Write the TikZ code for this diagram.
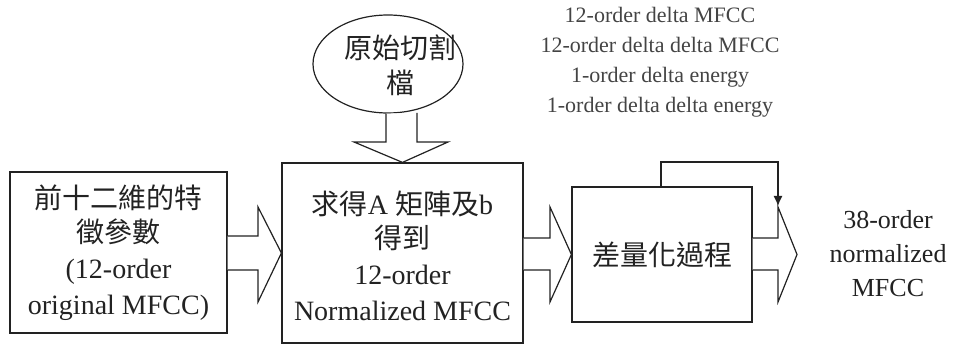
\documentclass[tikz,border=0pt]{standalone}
\usepackage{fontspec}
\setmainfont{Liberation Serif}
\newfontfamily\cjk{Noto Sans CJK TC}
\usetikzlibrary{shapes.geometric,arrows.meta}
\definecolor{ink}{HTML}{222222}
\definecolor{soft}{HTML}{444444}
\begin{document}
\begin{tikzpicture}[x=1pt,y=-1pt,
  line width=1.2pt,
  box/.style={draw=ink,rectangle,inner sep=0pt,align=center,text=ink,
    font=\fontsize{28}{36}\selectfont},
  blockarrow/.style={draw=ink,fill=white,line join=miter},
  plain/.style={align=center,text=ink,inner sep=0pt}]
\useasboundingbox (0,0) rectangle (953,344);
% boxes
\node[box,minimum width=217pt,minimum height=161pt] (feat) at (118.5,252.5)
  {{\cjk 前十二維的特}\\[-2pt]{\cjk 徵參數}\\(12-order\\original MFCC)};
\node[box,minimum width=241pt,minimum height=180pt] (norm) at (402.5,253) {};
\node[plain,font=\fontsize{28}{36}\selectfont] (normtext) at (402.5,256)
  {{\cjk 求得}A {\cjk 矩陣及}b\\[-2pt]{\cjk 得到}\\12-order\\Normalized MFCC};
\node[box,minimum width=180pt,minimum height=135pt] (diff) at (662,254.5)
  {{\cjk 差量化過程}};
% ellipse source
\node[draw=ink,ellipse,minimum width=150pt,minimum height=98pt,inner sep=0pt] (src) at (388,64) {};
\node[plain,font=\fontsize{28}{35}\selectfont] (srctext) at (400,65)
  {{\cjk 原始切割}\\{\cjk 檔}};
% block arrows
\draw[blockarrow] (src.south -| 386,0) -- (386,142) -- (354,142) -- (norm.north)
  -- (448,142) -- (417,142) -- (417,113);
\draw[blockarrow] (feat.east |- 0,236) -- (258,236) -- (258,207) -- (norm.west)
  -- (258,302) -- (258,270) -- (feat.east |- 0,270);
\draw[blockarrow] (norm.east |- 0,238) -- (550,238) -- (550,207) -- (diff.west)
  -- (550,302) -- (550,270) -- (norm.east |- 0,270);
\coordinate (outtip) at (797,254.5);
\draw[blockarrow] (diff.east |- 0,238) -- (778,238) -- (778,207) -- (outtip)
  -- (778,302) -- (778,270) -- (diff.east |- 0,270);
% feedback
\coordinate (fbend) at (778,206);
\draw[draw=ink,-{Latex[length=10pt,width=9pt]}] (diff.north -| 661,0) -- (661,162) -| (fbend);
% labels
\node[plain,text=soft,font=\fontsize{22}{30}\selectfont] (extra) at (660,62)
  {12-order delta MFCC\\12-order delta delta MFCC\\1-order delta energy\\1-order delta delta energy};
\node[plain,font=\fontsize{26}{34}\selectfont] (out) at (888,254)
  {38-order\\normalized\\MFCC};
\end{tikzpicture}
\end{document}
